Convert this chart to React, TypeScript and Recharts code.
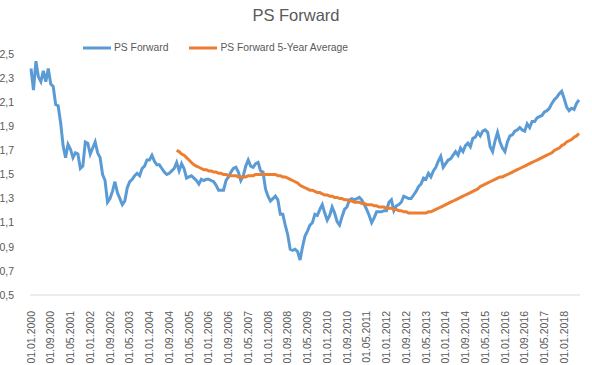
import { LineChart, Line, XAxis, YAxis, Legend } from 'recharts'

// monthly, 01.01.2000 .. 01.07.2018
const FIRST_YEAR = 2000
const MONTHS = 223

const psForward = [
  2.38, 2.20, 2.44, 2.31, 2.27, 2.36, 2.27, 2.38, 2.25, 2.23,
  2.08, 2.07, 1.93, 1.74, 1.64, 1.75, 1.71, 1.64, 1.68, 1.67,
  1.55, 1.57, 1.77, 1.76, 1.67, 1.72, 1.77, 1.68, 1.64, 1.50,
  1.45, 1.27, 1.30, 1.36, 1.44, 1.35, 1.30, 1.25, 1.28, 1.39,
  1.44, 1.46, 1.49, 1.51, 1.49, 1.55, 1.57, 1.62, 1.62, 1.66,
  1.61, 1.58, 1.58, 1.55, 1.52, 1.50, 1.51, 1.53, 1.55, 1.60,
  1.53, 1.59, 1.55, 1.47, 1.48, 1.49, 1.47, 1.45, 1.42, 1.46,
  1.45, 1.46, 1.46, 1.45, 1.44, 1.41, 1.37, 1.37, 1.37, 1.45,
  1.48, 1.52, 1.55, 1.56, 1.52, 1.45, 1.49, 1.57, 1.62, 1.57,
  1.56, 1.59, 1.60, 1.53, 1.52, 1.38, 1.32, 1.28, 1.30, 1.32,
  1.29, 1.17, 1.17, 1.08, 1.00, 0.88, 0.87, 0.88, 0.86, 0.79,
  0.90, 0.99, 1.03, 1.08, 1.10, 1.17, 1.16, 1.21, 1.25, 1.18,
  1.12, 1.16, 1.23, 1.18, 1.11, 1.08, 1.15, 1.21, 1.23, 1.29,
  1.30, 1.29, 1.30, 1.31, 1.29, 1.25, 1.21, 1.16, 1.10, 1.14,
  1.19, 1.19, 1.19, 1.20, 1.20, 1.27, 1.29, 1.20, 1.24, 1.25,
  1.27, 1.32, 1.31, 1.30, 1.30, 1.33, 1.36, 1.40, 1.42, 1.47,
  1.46, 1.51, 1.48, 1.53, 1.56, 1.61, 1.65, 1.56, 1.59, 1.62,
  1.63, 1.66, 1.69, 1.66, 1.72, 1.69, 1.74, 1.76, 1.73, 1.80,
  1.81, 1.85, 1.82, 1.86, 1.87, 1.85, 1.73, 1.69, 1.78, 1.85,
  1.77, 1.72, 1.69, 1.77, 1.82, 1.83, 1.86, 1.87, 1.89, 1.87,
  1.86, 1.92, 1.89, 1.94, 1.94, 1.97, 1.98, 1.99, 2.02, 2.03,
  2.05, 2.09, 2.12, 2.14, 2.17, 2.19, 2.13, 2.06, 2.03, 2.05,
  2.04, 2.09, 2.12,
]

// 5-year average begins at month index 59 (01.12.2004)
const AVG_START = 59
const psForward5y = [
  1.70, 1.69, 1.67, 1.66, 1.64, 1.62, 1.60, 1.58, 1.57, 1.56,
  1.55, 1.54, 1.54, 1.53, 1.53, 1.52, 1.52, 1.51, 1.51, 1.50,
  1.50, 1.49, 1.49, 1.49, 1.49, 1.48, 1.48, 1.48, 1.48, 1.49,
  1.49, 1.49, 1.50, 1.50, 1.50, 1.50, 1.50, 1.50, 1.50, 1.50,
  1.50, 1.49, 1.49, 1.48, 1.48, 1.47, 1.46, 1.45, 1.44, 1.43,
  1.41, 1.40, 1.39, 1.38, 1.37, 1.37, 1.36, 1.35, 1.35, 1.34,
  1.33, 1.33, 1.32, 1.32, 1.31, 1.31, 1.30, 1.30, 1.29, 1.29,
  1.28, 1.28, 1.27, 1.27, 1.27, 1.26, 1.26, 1.25, 1.25, 1.25,
  1.24, 1.24, 1.23, 1.23, 1.23, 1.22, 1.22, 1.22, 1.21, 1.21,
  1.20, 1.20, 1.19, 1.19, 1.18, 1.18, 1.18, 1.18, 1.18, 1.18,
  1.18, 1.18, 1.19, 1.19, 1.20, 1.21, 1.22, 1.23, 1.24, 1.25,
  1.26, 1.27, 1.28, 1.29, 1.30, 1.31, 1.32, 1.33, 1.34, 1.35,
  1.36, 1.37, 1.38, 1.40, 1.41, 1.42, 1.43, 1.44, 1.45, 1.46,
  1.47, 1.48, 1.48, 1.49, 1.50, 1.51, 1.52, 1.53, 1.54, 1.55,
  1.56, 1.57, 1.58, 1.59, 1.60, 1.61, 1.62, 1.63, 1.64, 1.65,
  1.66, 1.67, 1.68, 1.70, 1.71, 1.72, 1.74, 1.75, 1.77, 1.78,
  1.79, 1.81, 1.82, 1.84,
]

const yTicks = [0.5, 0.7, 0.9, 1.1, 1.3, 1.5, 1.7, 1.9, 2.1, 2.3, 2.5]

const BLUE = '#5B9BD5'
const ORANGE = '#ED7D31'
const TEXT = '#595959'
const FONT = '"Liberation Sans", Arial, sans-serif'

const dates: string[] = []
for (let i = 0; i < MONTHS; i++) {
  const m = (i % 12) + 1
  const y = FIRST_YEAR + Math.floor(i / 12)
  dates.push(`01.${String(m).padStart(2, '0')}.${y}`)
}

const data = dates.map((date, i) => ({
  date,
  ps: psForward[i],
  avg: i >= AVG_START ? psForward5y[i - AVG_START] : null,
}))

const fmtY = (v: number) => v.toFixed(1).replace('.', ',')

function DateTick({ x, y, payload }: any) {
  return (
    <text
      x={0}
      y={0}
      dy="0.35em"
      transform={`translate(${x},${y + 8}) rotate(-90)`}
      textAnchor="end"
      fontSize={10.5}
      fontFamily={FONT}
      fill={TEXT}
    >
      {payload.value}
    </text>
  )
}

function LegendBox() {
  const item = (color: string, label: string, gap: number) => (
    <span style={{ display: 'inline-flex', alignItems: 'center', marginRight: gap }}>
      <svg width={28} height={6} style={{ marginRight: 3 }}>
        <line x1={0} y1={3} x2={28} y2={3} stroke={color} strokeWidth={3} />
      </svg>
      <span>{label}</span>
    </span>
  )
  return (
    <div style={{ fontFamily: FONT, fontSize: 10.3, color: TEXT, whiteSpace: 'nowrap', display: 'flex' }}>
      {item(BLUE, 'PS Forward', 21)}
      {item(ORANGE, 'PS Forward 5-Year Average', 0)}
    </div>
  )
}

export default function App() {
  return (
    <div style={{ position: 'absolute', left: 0, top: 0, width: 592, height: 365, background: '#fff' }}>
      <div
        style={{
          position: 'absolute', left: 0, top: 6, width: 592, textAlign: 'center',
          fontFamily: FONT, fontSize: 16.5, color: TEXT,
        }}
      >
        PS Forward
      </div>
      <LineChart width={592} height={365} data={data} margin={{ top: 43, right: 12, bottom: 0, left: 0 }}>
        <XAxis
          dataKey="date"
          interval={7}
          tick={<DateTick />}
          tickLine={false}
          axisLine={{ stroke: '#d9d9d9' }}
          height={70}
          padding={{ left: 1, right: 1 }}
        />
        <YAxis
          domain={[0.5, 2.5]}
          ticks={yTicks}
          tickFormatter={fmtY}
          axisLine={false}
          tickLine={false}
          width={30}
          tickMargin={10}
          tick={{ fontSize: 10.5, fontFamily: FONT, fill: TEXT }}
        />
        <Legend
          verticalAlign="top"
          content={<LegendBox />}
          wrapperStyle={{ position: 'absolute', left: 83, top: 42, width: 300 }}
        />
        <Line type="linear" dataKey="ps" stroke={BLUE} strokeWidth={3} dot={false} isAnimationActive={false} />
        <Line type="linear" dataKey="avg" stroke={ORANGE} strokeWidth={3} dot={false} isAnimationActive={false} />
      </LineChart>
    </div>
  )
}
